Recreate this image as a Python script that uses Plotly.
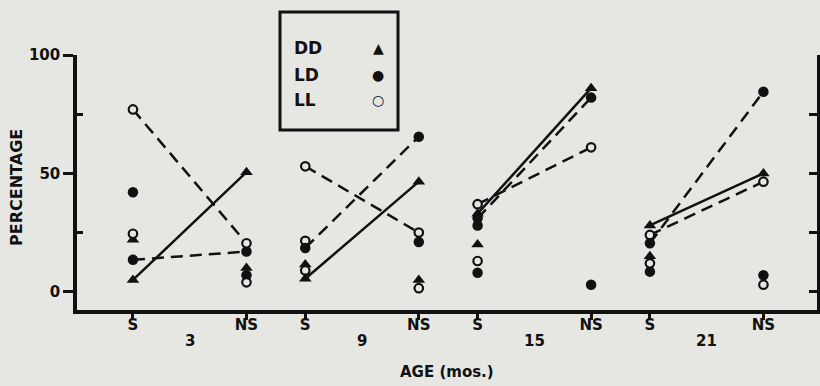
import plotly.graph_objects as go

# ---------------- data ----------------
ages = [3, 9, 15, 21]
conditions = ["S", "NS"]

# connected pairs (S -> NS) for each age
dd_S = [5, 5.5, 33, 28]
dd_NS = [50.5, 46.5, 86, 50]
ld_S = [13.5, 18.5, 31, 20.5]
ld_NS = [17, 65.5, 82, 84.5]
ll_S = [77, 53, 37, 24]
ll_NS = [20.5, 25, 61, 46.5]

# additional (unconnected) points
dd_other_age = [3, 3, 9, 9, 15, 21]
dd_other_cond = ["S", "NS", "S", "NS", "S", "S"]
dd_other_val = [22, 10, 11.5, 5, 20, 15]

ld_other_age = [3, 3, 9, 15, 15, 15, 21, 21]
ld_other_cond = ["S", "NS", "NS", "S", "S", "NS", "S", "NS"]
ld_other_val = [42, 7, 21, 28, 8, 3, 8.5, 7]

ll_other_age = [3, 3, 9, 9, 9, 15, 21, 21]
ll_other_cond = ["S", "NS", "S", "S", "NS", "S", "S", "NS"]
ll_other_val = [24.5, 4, 21.5, 9, 1.5, 13, 12, 3]

y_ticks = [0, 50, 100]
y_minor = [25, 75]

# ---------------- style ----------------
BG = "#e6e6e3"
INK = "#111111"
FONT = "DejaVu Sans"
GROUP_STEP = 1.518


def pos(age, cond):
    return ages.index(age) * GROUP_STEP + conditions.index(cond)


fig = go.Figure()

DASH = "12px,7px"
series = [
    ("DD", dd_S, dd_NS, dd_other_age, dd_other_cond, dd_other_val,
     dict(symbol="triangle-up", size=11, color=INK), "solid"),
    ("LD", ld_S, ld_NS, ld_other_age, ld_other_cond, ld_other_val,
     dict(symbol="circle", size=10.5, color=INK), DASH),
    ("LL", ll_S, ll_NS, ll_other_age, ll_other_cond, ll_other_val,
     dict(symbol="circle", size=8.5, color=BG, line=dict(color=INK, width=2.2)), DASH),
]

# unconnected points first (beneath)
for name, s, ns, oa, oc, ov, mk, dash in series:
    fig.add_trace(go.Scatter(
        x=[pos(a, c) for a, c in zip(oa, oc)], y=ov, mode="markers",
        marker=mk, showlegend=False, hoverinfo="skip", cliponaxis=False))

# connected lines
for name, s, ns, oa, oc, ov, mk, dash in series:
    for i, age in enumerate(ages):
        fig.add_trace(go.Scatter(
            x=[pos(age, "S"), pos(age, "NS")], y=[s[i], ns[i]],
            mode="lines+markers", line=dict(color=INK, width=2.5, dash=dash),
            marker=mk, showlegend=False, name=name, cliponaxis=False))

tickvals = [pos(a, c) for a in ages for c in conditions]
ticktext = [c for a in ages for c in conditions]

bold = dict(family=FONT, size=15, color=INK, weight="bold")

fig.update_layout(
    width=820, height=386,
    margin=dict(l=77, r=3, t=55, b=76),
    paper_bgcolor=BG, plot_bgcolor=BG,
    showlegend=False,
    xaxis=dict(range=[-0.493, 6.026], showgrid=False, zeroline=False,
               showline=True, linecolor=INK, linewidth=3.5,
               tickvals=tickvals, ticktext=ticktext, ticks="outside",
               ticklen=6, tickwidth=2.5, tickcolor=INK, tickfont=bold,
               ticklabelstandoff=-8),
    yaxis=dict(range=[-7.7, 100], showgrid=False, zeroline=False,
               showline=True, linecolor=INK, linewidth=3.5,
               tickvals=y_ticks, ticks="outside", ticklen=10, tickwidth=2.5,
               tickcolor=INK, tickfont=bold,
               minor=dict(tickvals=y_minor, ticks="inside", ticklen=6,
                          tickwidth=2.5, tickcolor=INK)),
    yaxis2=dict(range=[-7.7, 100], overlaying="y", side="right",
                showgrid=False, zeroline=False, showline=True,
                linecolor=INK, linewidth=3.5, tickvals=[0, 25, 50, 75, 100],
                ticks="inside", ticklen=8, tickwidth=2.5, tickcolor=INK,
                showticklabels=False),
)

# age group labels
for a in ages:
    fig.add_annotation(x=(pos(a, "S") + pos(a, "NS")) / 2, y=-0.12,
                       xref="x", yref="paper", text=str(a), showarrow=False,
                       font=bold, yanchor="middle")

fig.add_annotation(x=0.5, y=-0.245, xref="paper", yref="paper",
                   text="AGE (mos.)", showarrow=False, yanchor="middle",
                   font=dict(family=FONT, size=15, color=INK, weight="bold"))
fig.add_annotation(x=-0.082, y=0.48, xref="paper", yref="paper",
                   text="PERCENTAGE", showarrow=False, textangle=-90,
                   xanchor="center", yanchor="middle",
                   font=dict(family=FONT, size=16, color=INK, weight="bold"))

# legend box
fig.add_shape(type="rect", xref="paper", yref="paper",
              x0=(280 - 77) / 740, x1=(398 - 77) / 740,
              y0=(310 - 130) / 255, y1=(310 - 12) / 255,
              line=dict(color=INK, width=3), fillcolor=BG)
legend_rows = [("DD", "▲", 48), ("LD", "●", 75), ("LL", "○", 100)]
for label, sym, ypx in legend_rows:
    fig.add_annotation(x=(292 - 77) / 740, y=(310 - ypx) / 255, xref="paper",
                       yref="paper", text=label, showarrow=False,
                       xanchor="left", yanchor="middle",
                       font=dict(family=FONT, size=17, color=INK, weight="bold"))
    fig.add_annotation(x=(378 - 77) / 740, y=(310 - ypx) / 255, xref="paper",
                       yref="paper", text=sym, showarrow=False,
                       yanchor="middle",
                       font=dict(family="DejaVu Sans", size=14, color=INK,
                                 weight="bold"))

# invisible trace to activate right axis
fig.add_trace(go.Scatter(x=[None], y=[None], yaxis="y2", showlegend=False))

fig.write_html(
    "out.html",
    config={"displayModeBar": False},
    post_script="document.body.style.margin='0';"
                "document.body.style.backgroundColor='#e6e6e3';",
)
